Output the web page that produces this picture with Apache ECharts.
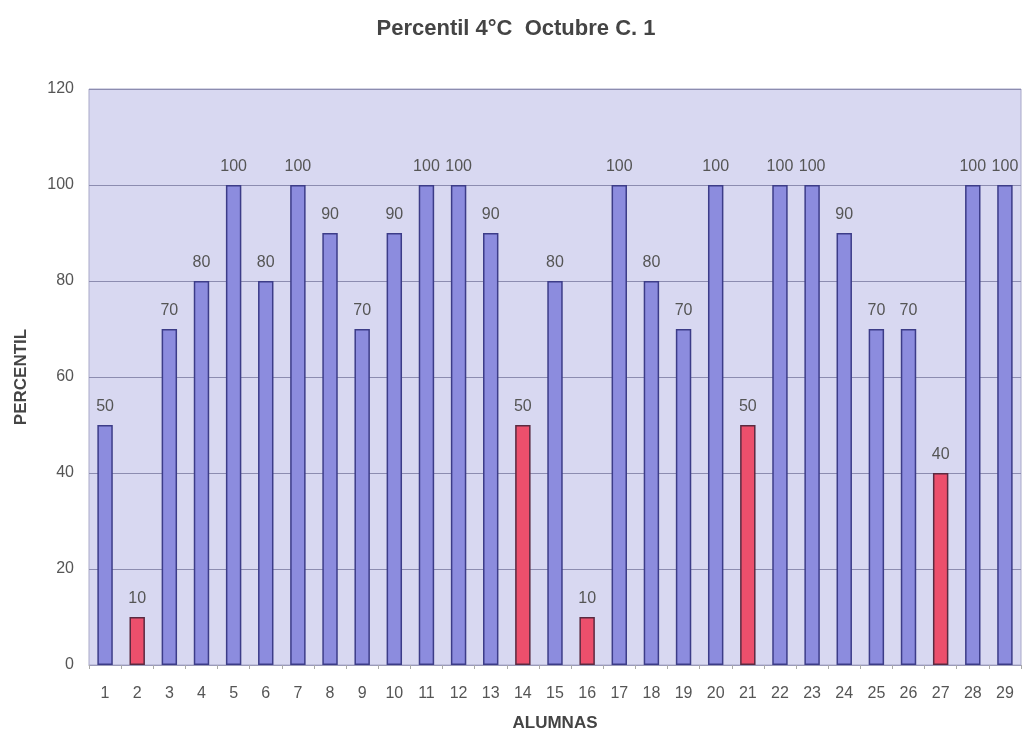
<!DOCTYPE html>
<html>
<head>
<meta charset="utf-8">
<script src="https://cdn.jsdelivr.net/npm/echarts@6/dist/echarts.min.js"></script>
<style>html,body{margin:0;padding:0;background:#fff}#c{width:1032px;height:737px}</style>
</head>
<body>
<div id="c"></div>
<script>
const categories = ['1','2','3','4','5','6','7','8','9','10','11','12','13','14','15','16','17','18','19','20','21','22','23','24','25','26','27','28','29'];
const values = [50,10,70,80,100,80,100,90,70,90,100,100,90,50,80,10,100,80,70,100,50,100,100,90,70,70,40,100,100];
const highlighted = ['2','14','16','21','27'];
const yTicks = [0,20,40,60,80,100,120];

const FONT = 'Liberation Sans, Arial, sans-serif';
const chart = echarts.init(document.getElementById('c'));
chart.setOption({
  animation: false,
  backgroundColor: '#ffffff',
  title: {
    text: 'Percentil 4°C  Octubre C. 1',
    left: 511, top: 13, textAlign: 'center',
    textStyle: {fontFamily: FONT, fontSize: 22, fontWeight: 'bold', color: '#444444'}
  },
  grid: {left: 89, right: 11, top: 89, bottom: 71, show: true, backgroundColor: '#d8d8f1', borderColor: '#a8a8c8', borderWidth: 1},
  xAxis: {
    type: 'category', data: categories,
    name: 'ALUMNAS', nameLocation: 'middle', nameGap: 50,
    nameTextStyle: {fontFamily: FONT, fontSize: 17, fontWeight: 'bold', color: '#444'},
    axisLine: {lineStyle: {color: '#9a9ab8'}},
    axisTick: {show: true, length: 4, lineStyle: {color: '#aaa'}},
    axisLabel: {fontFamily: FONT, fontSize: 16, color: '#555', margin: 21}
  },
  yAxis: {
    type: 'value', min: yTicks[0], max: yTicks[yTicks.length-1], interval: 20,
    name: 'PERCENTIL', nameLocation: 'middle', nameGap: 59, nameRotate: 90,
    nameTextStyle: {fontFamily: FONT, fontSize: 17, fontWeight: 'bold', color: '#444'},
    axisLine: {show: false},
    axisTick: {show: false},
    splitLine: {lineStyle: {color: '#8c8cb0', width: 1}},
    axisLabel: {fontFamily: FONT, fontSize: 16, color: '#555', margin: 15}
  },
  series: [{
    type: 'bar',
    barWidth: '48%',
    data: values.map((v, i) => ({
      value: v,
      itemStyle: highlighted.includes(categories[i])
        ? {color: '#ec4f6c', borderColor: '#5a2a40', borderWidth: 1.5}
        : {color: '#8c8cde', borderColor: '#3c3c88', borderWidth: 1.5}
    })),
    label: {show: true, position: 'top', distance: 10, fontFamily: FONT, fontSize: 16, color: '#555'}
  }]
});
</script>
</body>
</html>
